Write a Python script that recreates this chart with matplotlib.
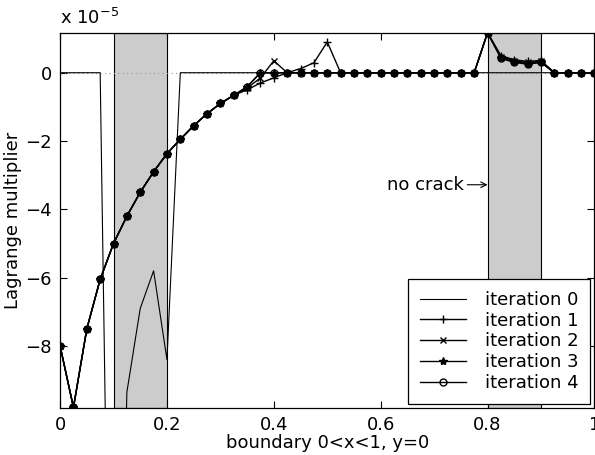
import numpy as np
import matplotlib
matplotlib.use('Agg')
import matplotlib.pyplot as plt
from matplotlib.ticker import FixedLocator, FixedFormatter

plt.rcParams['font.family'] = ['DejaVu Sans']

# boundary nodes 0 <= x <= 1, step 0.025 (41 nodes)
x = [i / 40 for i in range(41)]

# Lagrange multiplier values, in units of 1e-5
base = [-8.0, -9.8, -7.5, -6.05, -5.0, -4.2, -3.5, -2.9, -2.37, -1.95,
        -1.55, -1.2, -0.9, -0.66, -0.41, 0, 0, 0, 0, 0,
        0, 0, 0, 0, 0, 0, 0, 0, 0, 0,
        0, 0, 1.17, 0.42, 0.3, 0.25, 0.3, 0, 0, 0, 0]

iter0 = [0, 0, 0, 0, -26.0, -9.35, -6.9, -5.8, -8.4] + [0] * 32

iter1 = list(base)
iter1[14:22] = [-0.5, -0.3, -0.15, 0.0, 0.12, 0.29, 0.9, 0.0]
iter1[33:37] = [0.5, 0.38, 0.33, 0.36]

iter2 = list(base)
iter2[14:18] = [-0.45, -0.15, 0.35, 0.0]
iter2[33:37] = [0.47, 0.35, 0.3, 0.33]

iter3 = list(base)
iter3[33:37] = [0.44, 0.32, 0.27, 0.31]

iter4 = list(base)

# regions without crack
no_crack = [(0.1, 0.2), (0.8, 0.9)]

fig = plt.figure(figsize=(5.95, 4.55), dpi=100)
ax = fig.add_axes([0.101, 0.103, 0.898, 0.825])

for a, b in no_crack:
    ax.axvspan(a, b, facecolor='#cccccc', edgecolor='black', linewidth=0.8, zorder=1)

ax.axhline(0, color='#999999', linestyle=(0, (1, 3)), linewidth=0.8, zorder=2)

ax.plot(x, iter0, color='black', linewidth=0.8, label='iteration 0', zorder=3)
ax.plot(x, iter1, color='black', linewidth=1.0, marker='+', markersize=6,
        label='iteration 1', zorder=4)
ax.plot(x, iter2, color='black', linewidth=1.0, marker='x', markersize=5,
        label='iteration 2', zorder=4)
ax.plot(x, iter3, color='black', linewidth=1.0, marker='*', markersize=6,
        label='iteration 3', zorder=5)
ax.plot(x, iter4, color='black', linewidth=1.0, marker='o', markersize=5,
        markerfacecolor='none', label='iteration 4', zorder=5)

ax.set_xlim(0, 1)
ax.set_ylim(-9.82, 1.17)

ax.xaxis.set_major_locator(FixedLocator([0, 0.2, 0.4, 0.6, 0.8, 1.0]))
ax.xaxis.set_major_formatter(FixedFormatter(['0', '0.2', '0.4', '0.6', '0.8', '1']))
ax.yaxis.set_major_locator(FixedLocator([-8, -6, -4, -2, 0]))
ax.yaxis.set_major_formatter(FixedFormatter(['\u22128', '\u22126', '\u22124', '\u22122', '0']))
ax.tick_params(direction='in', top=True, right=True, length=5, width=0.8,
               labelsize=13, pad=6)
for s in ax.spines.values():
    s.set_linewidth(0.9)

ax.text(0.0, 1.012, 'x 10$^{-5}$', transform=ax.transAxes, ha='left', va='bottom',
        fontsize=13)

ax.text(0.755, -3.28, 'no crack', ha='right', va='center', fontsize=13)
ax.annotate('', xy=(0.8, -3.28), xytext=(0.762, -3.28),
            arrowprops=dict(arrowstyle='->', color='black', lw=0.8,
                            shrinkA=0, shrinkB=0))

ax.set_xlabel('boundary 0<x<1, y=0', fontsize=13, labelpad=0)
ax.set_ylabel('Lagrange multiplier', fontsize=13, labelpad=2)

leg = ax.legend(loc='lower right', fontsize=13, frameon=True, fancybox=False,
                edgecolor='black', framealpha=1, handlelength=2.6,
                handletextpad=1.0, labelspacing=0.15, borderpad=0.65,
                borderaxespad=0.25)
leg.get_frame().set_linewidth(0.9)

fig.savefig('out.png', dpi=100)
plt.close(fig)
